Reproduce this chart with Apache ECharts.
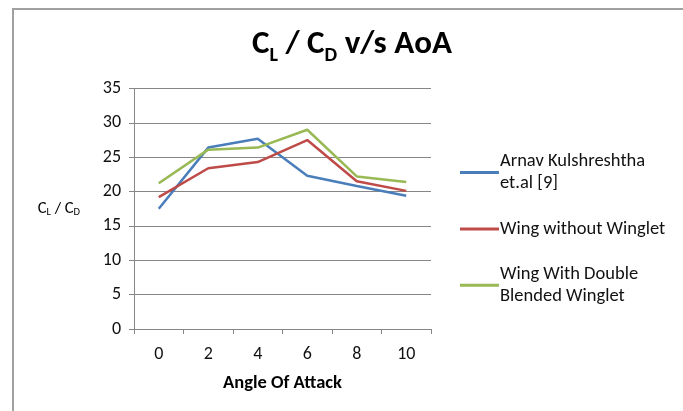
<!DOCTYPE html>
<html>
<head>
<meta charset="utf-8">
<script src="https://cdn.jsdelivr.net/npm/echarts@6/dist/echarts.min.js"></script>
<style>
html,body{margin:0;padding:0;background:#fff;}
#chart{width:683px;height:411px;}
</style>
</head>
<body>
<div id="chart"></div>
<script>
const categories = ['0', '2', '4', '6', '8', '10'];
const seriesNames = ['Arnav Kulshreshtha\net.al [9]', 'Wing without Winglet', 'Wing With Double\nBlended Winglet'];
const arnav = [17.5, 26.4, 27.7, 22.3, 20.8, 19.4];
const withoutWinglet = [19.2, 23.4, 24.3, 27.5, 21.5, 20.1];
const doubleBlended = [21.2, 26.1, 26.4, 29.0, 22.2, 21.4];
const colors = ['#4a7ebb', '#be4b48', '#98b954'];

const FONT = 'Carlito, Lato, sans-serif';
const chart = echarts.init(document.getElementById('chart'), null, {renderer: 'canvas'});
const LH = 21.7;

chart.setOption({
  animation: false,
  backgroundColor: '#ffffff',
  graphic: [{
    type: 'rect', silent: true,
    shape: {x: 13, y: 9, width: 720, height: 460},
    style: {fill: 'none', stroke: '#a0a0a0', lineWidth: 2}
  }],
  title: {
    text: '{a|C}{b|L}{a| / C}{b|D}{a| v/s AoA}',
    left: 347, top: 18, textAlign: 'center',
    textStyle: {
      rich: {
        a: {fontFamily: FONT, fontSize: 33, fontWeight: 'bold', color: '#000', lineHeight: 44},
        b: {fontFamily: FONT, fontSize: 20, fontWeight: 'bold', color: '#000', lineHeight: 20, padding: [22, 0, 0, 0]}
      }
    }
  },
  legend: {
    orient: 'vertical',
    left: 460, top: 140,
    padding: 0,
    itemGap: 13,
    itemWidth: 39, itemHeight: 3,
    icon: 'rect',
    textStyle: {fontFamily: FONT, fontSize: 18.5, color: '#111', lineHeight: LH, padding: [0, 0, 0, -4]},
    data: [
      {name: seriesNames[0], textStyle: {padding: [LH, 0, 0, -4]}},
      {name: seriesNames[1]},
      {name: seriesNames[2], textStyle: {padding: [LH, 0, 0, -4]}}
    ]
  },
  grid: {left: 134, right: 252, top: 88.5, bottom: 82, containLabel: false},
  xAxis: {
    type: 'category',
    data: categories,
    boundaryGap: true,
    name: 'Angle Of Attack',
    nameLocation: 'middle',
    nameGap: 45,
    nameTextStyle: {fontFamily: FONT, fontSize: 18.5, fontWeight: 'bold', color: '#000'},
    axisLine: {show: true, lineStyle: {color: '#868686', width: 1}},
    axisTick: {show: true, alignWithLabel: false, length: 5, inside: false, lineStyle: {color: '#868686'}},
    axisLabel: {fontFamily: FONT, fontSize: 18, color: '#111', margin: 16},
    splitLine: {show: false}
  },
  yAxis: {
    type: 'value',
    min: 0, max: 35, interval: 5,
    name: '{a|C}{b|L}{a| / C}{b|D}',
    nameLocation: 'middle',
    nameRotate: 0,
    nameGap: 54,
    nameTextStyle: {
      rich: {
        a: {fontFamily: FONT, fontSize: 16.5, color: '#000', lineHeight: 20},
        b: {fontFamily: FONT, fontSize: 10.5, color: '#000', lineHeight: 12, padding: [8, 0, 0, 0]}
      }
    },
    axisLine: {show: true, lineStyle: {color: '#868686', width: 1}},
    axisTick: {show: true, length: 5, inside: false, lineStyle: {color: '#868686'}},
    axisLabel: {fontFamily: FONT, fontSize: 18, color: '#111', margin: 13},
    splitLine: {show: true, lineStyle: {color: '#868686', width: 1}}
  },
  series: [
    {name: seriesNames[0], type: 'line', data: arnav, showSymbol: false, symbol: 'none', lineStyle: {width: 2.5, color: colors[0]}, itemStyle: {color: colors[0]}},
    {name: seriesNames[1], type: 'line', data: withoutWinglet, showSymbol: false, symbol: 'none', lineStyle: {width: 2.5, color: colors[1]}, itemStyle: {color: colors[1]}},
    {name: seriesNames[2], type: 'line', data: doubleBlended, showSymbol: false, symbol: 'none', lineStyle: {width: 2.5, color: colors[2]}, itemStyle: {color: colors[2]}}
  ]
});
</script>
</body>
</html>
